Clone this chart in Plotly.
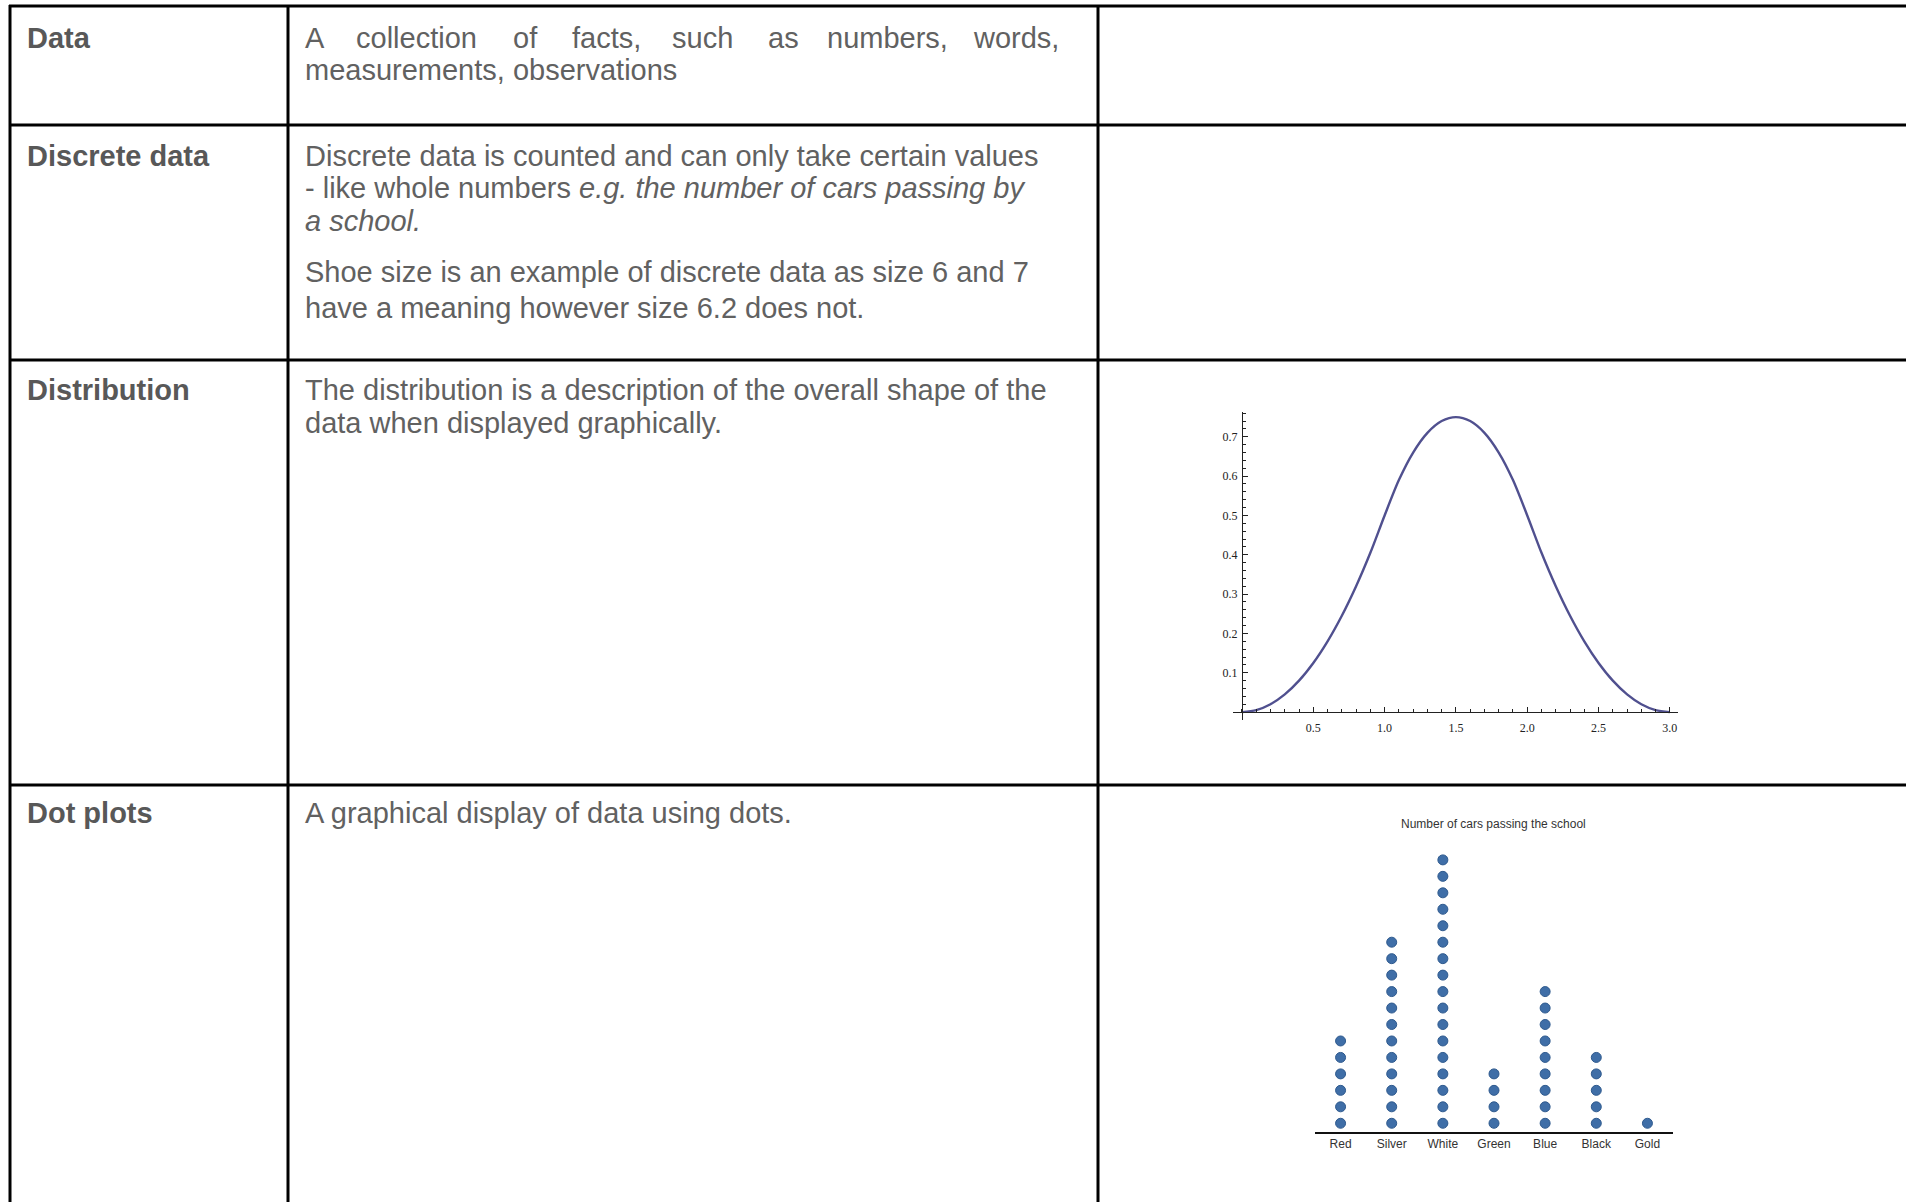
import plotly.graph_objects as go

# ---------------- data ----------------
# Distribution curve
dist_x = [0.0, 0.1, 0.2, 0.3, 0.4, 0.5, 0.6, 0.7, 0.8, 0.9, 1.0,
          1.1, 1.2, 1.3, 1.4, 1.5, 1.6, 1.7, 1.8, 1.9, 2.0,
          2.1, 2.2, 2.3, 2.4, 2.5, 2.6, 2.7, 2.8, 2.9, 3.0]
dist_y = [0.0, 0.005, 0.02, 0.045, 0.08, 0.125, 0.18, 0.245, 0.32, 0.405, 0.5,
          0.59, 0.66, 0.71, 0.74, 0.75, 0.74, 0.71, 0.66, 0.59, 0.5,
          0.405, 0.32, 0.245, 0.18, 0.125, 0.08, 0.045, 0.02, 0.005, 0.0]
dist_xtick_vals = [0.5, 1.0, 1.5, 2.0, 2.5, 3.0]
dist_xtick_text = ["0.5", "1.0", "1.5", "2.0", "2.5", "3.0"]
dist_ytick_vals = [0.1, 0.2, 0.3, 0.4, 0.5, 0.6, 0.7]
dist_ytick_text = ["0.1", "0.2", "0.3", "0.4", "0.5", "0.6", "0.7"]

# Dot plot
car_colours = ["Red", "Silver", "White", "Green", "Blue", "Black", "Gold"]
car_counts = [6, 12, 17, 4, 9, 5, 1]
dot_title = "Number of cars passing the school"

# Table text
row_labels = ["Data", "Discrete data", "Distribution", "Dot plots"]
data_line1_words = ["A", "collection", "of", "facts,", "such", "as", "numbers,", "words,"]
body_lines = [
    "measurements, observations",
    "Discrete data is counted and can only take certain values",
    "- like whole numbers <i>e.g. the number of cars passing by</i>",
    "<i>a school.</i>",
    "Shoe size is an example of discrete data as size 6 and 7",
    "have a meaning however size 6.2 does not.",
    "The distribution is a description of the overall shape of the",
    "data when displayed graphically.",
    "A graphical display of data using dots.",
]

# ---------------- layout helpers ----------------
W, H = 1906, 1202


def px(x):
    return x / W


def py(y):
    return 1 - y / H


TEXT_FONT = "Liberation Sans, Arial, Helvetica, sans-serif"
FS = 29
BODY_COLOR = "#616161"
LABEL_COLOR = "#585858"

fig = go.Figure()

# Distribution curve
fig.add_trace(go.Scatter(
    x=dist_x, y=dist_y, xaxis="x", yaxis="y", mode="lines",
    line=dict(color="#50508f", width=2.4, shape="spline", smoothing=0.8),
    hoverinfo="skip", showlegend=False))

# Dot plot points (stacked)
dot_x, dot_y = [], []
for c, n in zip(car_colours, car_counts):
    for k in range(1, n + 1):
        dot_x.append(c)
        dot_y.append(k)
fig.add_trace(go.Scatter(
    x=dot_x, y=dot_y, xaxis="x2", yaxis="y2", mode="markers",
    marker=dict(size=10, color="#3f6ea7", line=dict(color="#2f5a8e", width=1)),
    hoverinfo="skip", showlegend=False))

serif = "Liberation Serif, Times New Roman, serif"

fig.update_layout(
    width=W, height=H, autosize=False,
    margin=dict(l=0, r=0, t=0, b=0, pad=0),
    paper_bgcolor="white", plot_bgcolor="rgba(0,0,0,0)",
    showlegend=False,
    xaxis=dict(
        domain=[px(1233), px(1678)], range=[-0.063, 3.057],
        anchor="free", position=py(712),
        showline=True, linecolor="#222", linewidth=1,
        ticks="inside", ticklen=5, tickwidth=1, tickcolor="#222",
        tickmode="array", tickvals=dist_xtick_vals, ticktext=dist_xtick_text,
        minor=dict(tickmode="linear", tick0=0, dtick=0.1, ticks="inside",
                   ticklen=3, tickcolor="#222", showgrid=False),
        ticklabelstandoff=5,
        tickfont=dict(family=serif, size=12, color="#222"),
        showgrid=False, zeroline=False, fixedrange=True,
    ),
    yaxis=dict(
        domain=[py(720), py(412)], range=[-0.020, 0.763],
        anchor="free", position=px(1242), side="left",
        showline=True, linecolor="#222", linewidth=1,
        ticks="inside", ticklen=5, tickwidth=1, tickcolor="#222",
        tickmode="array", tickvals=dist_ytick_vals, ticktext=dist_ytick_text,
        minor=dict(tickmode="linear", tick0=0, dtick=0.02, ticks="inside",
                   ticklen=3, tickcolor="#222", showgrid=False),
        ticklabelstandoff=2,
        tickfont=dict(family=serif, size=12, color="#222"),
        showgrid=False, zeroline=False, fixedrange=True,
    ),
    xaxis2=dict(
        domain=[px(1315), px(1673)], anchor="y2",
        type="category", categoryorder="array", categoryarray=car_colours,
        range=[-0.5, 6.5],
        showline=True, linecolor="#111", linewidth=2,
        ticks="", tickfont=dict(family="Liberation Sans, Arial, sans-serif", size=12, color="#333"),
        ticklabelstandoff=0,
        showgrid=False, zeroline=False, fixedrange=True,
    ),
    yaxis2=dict(
        domain=[py(1131.5), py(835.2)], anchor="x2", range=[0.5, 18.5],
        visible=False, showgrid=False, zeroline=False, fixedrange=True,
    ),
)

# ---------------- table borders ----------------
LW = 3
shapes = []
for x in [10, 288, 1098]:
    shapes.append(dict(type="line", xref="paper", yref="paper",
                       x0=px(x), x1=px(x), y0=py(5), y1=py(H + 5),
                       line=dict(color="black", width=LW)))
for y in [6, 125, 360, 785]:
    shapes.append(dict(type="line", xref="paper", yref="paper",
                       x0=px(9), x1=px(W + 5), y0=py(y), y1=py(y),
                       line=dict(color="black", width=LW)))
fig.update_layout(shapes=shapes)

# ---------------- text ----------------
annotations = []
label_y = [37.7, 155.6, 390, 813]
for lab, y in zip(row_labels, label_y):
    annotations.append(dict(
        text="<b>%s</b>" % lab, xref="paper", yref="paper",
        x=px(25), y=py(y), xanchor="left", yanchor="middle", showarrow=False,
        font=dict(family=TEXT_FONT, size=FS, color=LABEL_COLOR)))

# justified first line of the "Data" row
word_x = [303, 354, 511, 570, 670, 766, 825, 971]
for w, x in zip(data_line1_words, word_x):
    annotations.append(dict(
        text=w, xref="paper", yref="paper",
        x=px(x), y=py(37.7), xanchor="left", yanchor="middle", showarrow=False,
        font=dict(family=TEXT_FONT, size=FS, color=BODY_COLOR)))

body_y = [70.5, 155.6, 188.4, 221, 272.3, 307.5, 390, 423, 813]
for t, y in zip(body_lines, body_y):
    annotations.append(dict(
        text=t, xref="paper", yref="paper",
        x=px(303), y=py(y), xanchor="left", yanchor="middle", showarrow=False,
        font=dict(family=TEXT_FONT, size=FS, color=BODY_COLOR)))

# dot plot title
annotations.append(dict(
    text=dot_title, xref="paper", yref="paper",
    x=px(1493), y=py(824), xanchor="center", yanchor="middle", showarrow=False,
    font=dict(family="Liberation Sans, Arial, sans-serif", size=12, color="#333")))

fig.update_layout(annotations=annotations)

fig.write_html("out.html", config={"displayModeBar": False},
               post_script="document.body.style.margin='0';document.body.style.overflow='hidden';")
